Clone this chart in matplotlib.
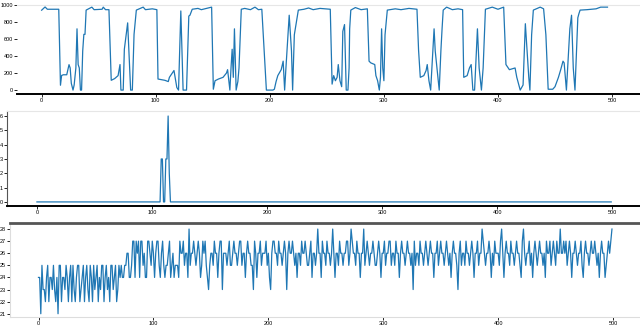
import numpy as np
import matplotlib
matplotlib.use('Agg')
import matplotlib.pyplot as plt

plt.rcParams['font.family'] = ['Liberation Sans Narrow', 'Liberation Sans', 'DejaVu Sans']

# top series (vertices)
top_x = [0,3,5,15,16.5,17.5,19,22,24,25,26,27.5,28.5,30,31,32,33,34,35,36,37,38,39,44,46,53,54,56,59,
         61,64,67,68.7,69.5,71.5,72.5,75.4,76.5,78,79.5,81,83,89,91,97,101,102,108,111,112,116,117,118.5,
         120,122,123,124,127,129,130,132,137,140,149,150.5,152,155,159,162,163,165,166,167,168,169,170.5,
         172,173,175,178,183,187,190,193,197,202.7,204,205.5,207,210,211.7,213,214,217,219,220,221.5,225,
         230,234,238,244,253,254.6,256,257.5,259,260,261.5,263,264,265.5,267,268.5,269.5,270,271,275,280,
         285.5,287,288.5,292,293,294.5,296,297,298,299,300,301,303,310,315,322,329,330.4,331.9,335,337,338,
         339.5,341,344,345,346.5,348.5,350,351,352,355,360,365,369,370,373,375,376.5,378,379.5,382,383.5,
         385.5,387,388,389,395,400,405,407,410,415,416.5,419.5,422,424,425.5,427,428,429.5,431,437,440,442,
         444,448,450,453,455,457,458,460,463,464.5,466,467.5,469,470,471,472,478,486,490,496]
top_y = [939,977,950,950,57,172,180,180,299,260,80,0,60,260,720,300,260,0,0,460,655,655,940,975,945,950,975,945,945,
         115,135,170,300,0,0,480,790,460,0,0,655,940,975,945,955,945,130,115,100,150,230,150,30,
         0,930,460,0,0,870,880,950,960,945,975,10,110,130,150,200,240,0,260,480,150,720,0,
         100,260,950,960,945,975,945,950,0,0,10,100,170,240,340,0,230,880,460,0,650,940,
         950,965,945,960,950,70,170,110,150,300,110,40,690,770,0,0,260,720,940,970,945,
         955,340,320,300,170,110,0,150,720,260,110,650,940,955,945,960,950,470,150,170,230,300,
         110,0,720,460,260,0,470,720,940,975,945,955,945,150,170,260,300,0,0,720,260,
         0,260,620,950,975,950,975,300,240,260,150,0,60,780,460,150,0,650,940,975,955,650,
         10,10,40,150,240,340,320,0,720,880,260,0,500,850,900,940,945,955,975,975]

# middle series
mid_x = [0,107,108,109,110,111,112,113,114,115,116,499]
mid_y = [0,0,3,3,0,0,3,3,6,2,0,0]

# bottom series
bot_y = [24,24,21,25,23,23,22,24,25,22,24,24,23,25,23,22,24,21,25,25,22,24,24,23,25,
         24,22,24,25,22,25,23,22,24,25,25,22,23,24,25,22,24,25,23,22,25,24,22,25,23,
         24,25,22,24,23,25,25,22,24,25,23,24,22,25,25,23,24,25,22,23,25,24,25,24,24,
         25,25,26,26,24,24,25,27,27,24,27,26,27,24,27,27,25,26,24,24,27,27,26,25,27,
         26,24,26,27,27,25,24,26,27,25,24,25,25,26,27,24,25,26,24,25,25,25,24,27,26,
         26,27,25,26,26,24,28,25,26,26,27,26,25,26,27,26,24,25,27,26,27,25,24,23,25,
         26,26,25,27,26,26,24,26,27,27,23,26,26,26,25,26,27,25,25,26,27,26,26,25,26,
         27,27,25,26,26,24,26,27,26,26,25,25,23,27,26,24,26,26,27,25,26,26,26,27,25,
         26,24,23,26,27,27,26,26,25,27,26,26,25,26,27,26,23,26,27,26,26,27,26,25,26,
         24,26,26,25,27,26,26,27,26,25,25,26,27,24,26,26,25,26,28,26,26,24,27,26,26,
         25,27,26,26,25,26,28,26,24,26,26,25,27,26,26,25,26,26,27,27,25,26,28,27,26,
         26,25,27,26,26,24,26,26,28,25,26,27,26,25,26,26,27,26,25,25,26,27,26,24,26,
         26,27,25,26,26,27,27,25,26,26,25,27,26,26,24,26,27,26,26,25,26,27,26,26,25,
         26,23,27,25,26,26,25,27,26,26,25,26,27,26,25,26,27,26,26,24,26,26,27,25,26,
         27,26,26,25,26,27,26,25,26,24,26,27,26,26,25,23,26,27,25,26,26,25,27,26,26,
         25,26,27,26,24,26,26,27,25,26,26,28,27,26,25,26,26,27,26,24,26,25,27,26,26,
         26,25,27,28,26,24,26,27,26,26,25,27,26,26,25,26,27,26,26,25,24,27,28,26,25,
         26,26,27,25,26,24,26,27,26,25,26,27,26,26,25,26,24,27,26,26,27,25,26,27,26,
         25,27,26,26,28,26,26,27,26,27,25,26,27,26,24,26,26,27,26,25,26,26,27,25,24,
         26,27,26,26,25,26,27,26,26,27,26,25,26,24,26,27,26,26,24,25,26,27,26,27,28]
bot_x = np.arange(len(bot_y))

W, H = 640, 326
fig = plt.figure(figsize=(W/100, H/100), dpi=100)
blue = '#1f77b4'
fs = 4

def box(l, t, r, b):
    return [l/W, 1-b/H, (r-l)/W, (b-t)/H]

ax1 = fig.add_axes(box(17, 5, 640, 94))
ax1.plot(top_x, top_y, color=blue, lw=0.9)
ax1.set_xlim(-21.6, 524.5)
ax1.set_ylim(-46, 1000)
ax1.set_yticks([0, 200, 400, 600, 800, 1000])
ax1.spines['left'].set_visible(False)
ax1.spines['right'].set_visible(False)
ax1.spines['top'].set_color('#e6e6e6')
ax1.spines['bottom'].set_linewidth(1.4)

ax2 = fig.add_axes(box(7, 111, 640, 205.5))
ax2.plot(mid_x, mid_y, color=blue, lw=0.9)
ax2.set_xlim(-26, 524)
ax2.set_ylim(-0.25, 6.35)
ax2.set_yticks(range(0, 7))
ax2.spines['right'].set_visible(False)
ax2.spines['top'].set_color('#e6e6e6')
ax2.spines['left'].set_color('#555555')
ax2.spines['bottom'].set_linewidth(1.4)

ax3 = fig.add_axes(box(10, 223, 640, 317))
ax3.plot(bot_x, bot_y, color=blue, lw=0.9)
ax3.set_xlim(-24.8, 523.4)
ax3.set_ylim(20.73, 28.5)
ax3.set_yticks(range(21, 29))
ax3.spines['right'].set_visible(False)
ax3.spines['top'].set_color('#555555')
ax3.spines['top'].set_linewidth(2)
ax3.spines['left'].set_color('#dddddd')
ax3.spines['bottom'].set_color('#dddddd')

for ax in [ax1, ax2, ax3]:
    ax.set_xticks([0, 100, 200, 300, 400, 500])
    ax.tick_params(labelsize=fs, length=2, width=0.6, pad=1)

plt.savefig('out.png', dpi=100)
